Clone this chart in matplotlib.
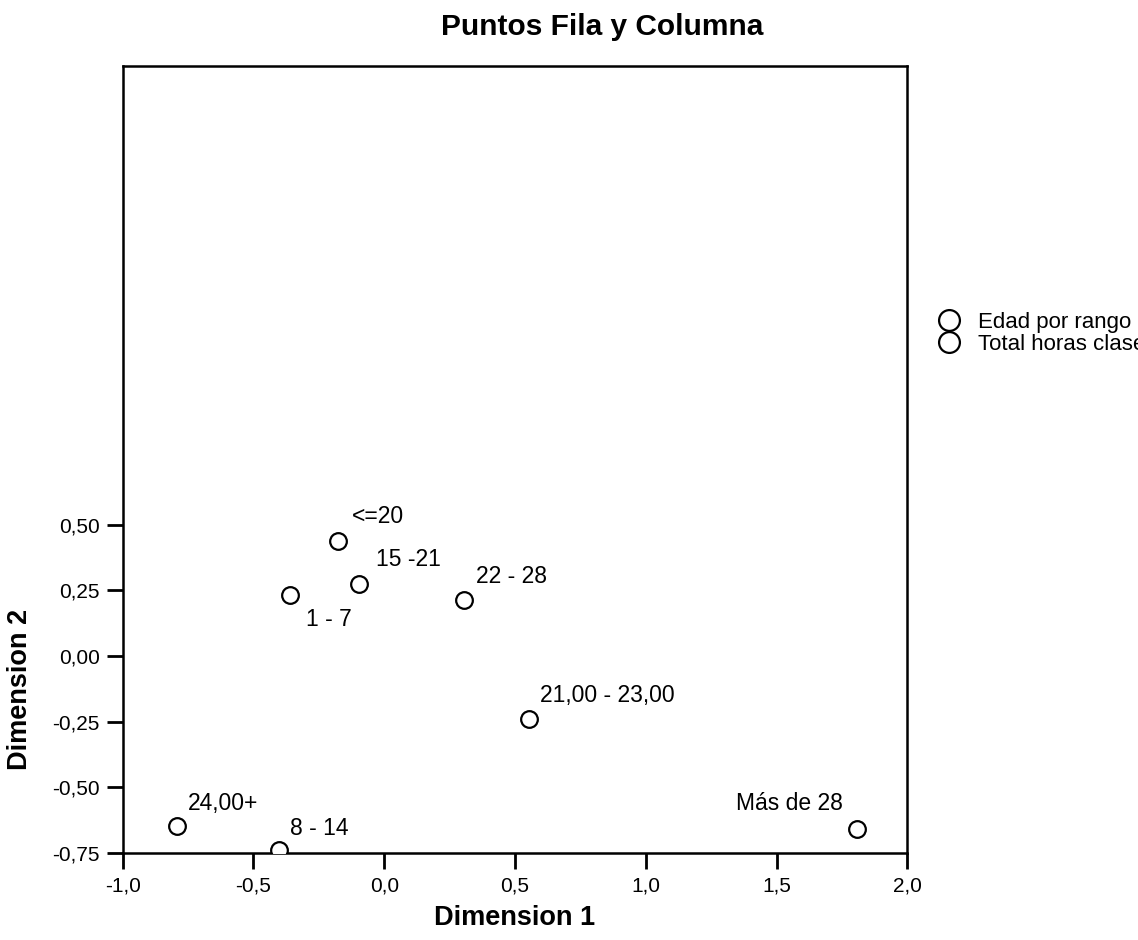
import matplotlib
matplotlib.use("Agg")
import matplotlib.pyplot as plt
from matplotlib.lines import Line2D

plt.rcParams['font.family'] = ['Liberation Sans', 'DejaVu Sans']

# puntos fila (edad por rango) y columna (total horas clase)
edad_labels = ['<=20', '21,00 - 23,00', '24,00+']
edad_d1 = [-0.176, 0.555, -0.793]
edad_d2 = [0.44, -0.242, -0.65]

horas_labels = ['1 - 7', '8 - 14', '15 -21', '22 - 28', 'Más de 28']
horas_d1 = [-0.360, -0.401, -0.096, 0.306, 1.807]
horas_d2 = [0.232, -0.74, 0.276, 0.213, -0.659]

x_ticks = [-1.0, -0.5, 0.0, 0.5, 1.0, 1.5, 2.0]
y_ticks = [-0.75, -0.50, -0.25, 0.00, 0.25, 0.50]

# desplazamiento de etiquetas en pixeles
offsets = {
    '<=20': (14, 24, 'left'),
    '21,00 - 23,00': (11, 24, 'left'),
    '24,00+': (11, 23, 'left'),
    '1 - 7': (16, -24, 'left'),
    '8 - 14': (11, 22, 'left'),
    '15 -21': (17, 24, 'left'),
    '22 - 28': (12, 24, 'left'),
    'Más de 28': (-14, 25, 'right'),
}

fig = plt.figure(figsize=(11.38, 9.40), dpi=100)
ax = fig.add_axes([0.1078, 0.0929, 0.6895, 0.8369])

mk = dict(marker='o', ms=12, mfc='white', mec='black', mew=1.6, ls='none')
ax.plot(edad_d1, edad_d2, **mk, zorder=3)
ax.plot(horas_d1, horas_d2, **mk, zorder=3)

for lab, x, y in zip(edad_labels + horas_labels, edad_d1 + horas_d1, edad_d2 + horas_d2):
    dx, dy, ha = offsets[lab]
    ax.annotate(lab, (x, y), xytext=(dx, dy), textcoords='offset pixels',
                ha=ha, va='center', fontsize=16.5)

ax.set_xlim(-1.0, 2.0)
ax.set_ylim(-0.75, 2.25)
ax.set_xticks(x_ticks)
ax.set_xticklabels([f'{v:.1f}'.replace('.', ',') for v in x_ticks])
ax.set_yticks(y_ticks)
ax.set_yticklabels([f'{v:.2f}'.replace('.', ',') for v in y_ticks])
ax.tick_params(direction='out', length=11.5, width=2, labelsize=15)
ax.tick_params(axis='x', pad=6)
ax.tick_params(axis='y', pad=5)
for s in ax.spines.values():
    s.set_linewidth(1.8)

ax.set_xlabel('Dimension 1', fontsize=19.5, fontweight='bold')
ax.xaxis.set_label_coords(0.5, -0.066)
ax.set_ylabel('Dimension 2', fontsize=19.5, fontweight='bold')
ax.yaxis.set_label_coords(-0.114, 0.207)

fig.text(602 / 1138, 1 - 35 / 940, 'Puntos Fila y Columna', ha='center', va='baseline',
         fontsize=21.5, fontweight='bold')

handles = [Line2D([], [], marker='o', ms=15, mfc='white', mec='black', mew=1.6, ls='none'),
           Line2D([], [], marker='o', ms=15, mfc='white', mec='black', mew=1.6, ls='none')]
fig.legend(handles, ['Edad por rango', 'Total horas clase'], loc='upper left',
           bbox_to_anchor=(927 / 1138, 1 - 301 / 940), frameon=False, fontsize=16,
           handletextpad=0.8, labelspacing=0.02, handlelength=1.0, borderpad=0)

fig.savefig('out.png', dpi=100)
